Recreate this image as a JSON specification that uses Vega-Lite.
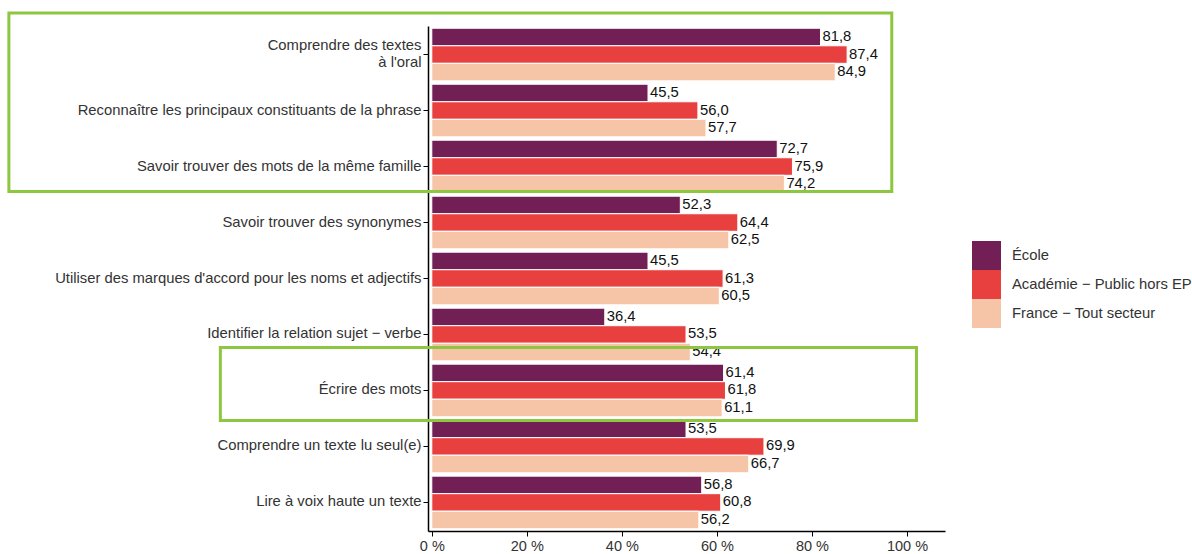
{
  "$schema": "https://vega.github.io/schema/vega-lite/v6.json",
  "autosize": {"type": "none"},
  "padding": {"left": 428, "top": 26, "right": 247, "bottom": 23},
  "width": 517,
  "height": 505,
  "background": "white",
  "config": {
    "view": {"stroke": null},
    "font": "Liberation Sans",
    "axis": {"domainColor": "#000000", "domainWidth": 1.5, "tickColor": "#000000", "tickSize": 5, "grid": false, "labelColor": "#333333"},
    "locale": {"number": {"decimal": ",", "thousands": " ", "grouping": [3], "currency": ["", " €"]}}
  },
  "layer": [
    {
      "data": {
        "values": [
          {"cat": "Comprendre des textes\nà l'oral", "serie": "École", "v": 81.8},
          {"cat": "Comprendre des textes\nà l'oral", "serie": "Académie − Public hors EP", "v": 87.4},
          {"cat": "Comprendre des textes\nà l'oral", "serie": "France − Tout secteur", "v": 84.9},
          {"cat": "Reconnaître les principaux constituants de la phrase", "serie": "École", "v": 45.5},
          {"cat": "Reconnaître les principaux constituants de la phrase", "serie": "Académie − Public hors EP", "v": 56.0},
          {"cat": "Reconnaître les principaux constituants de la phrase", "serie": "France − Tout secteur", "v": 57.7},
          {"cat": "Savoir trouver des mots de la même famille", "serie": "École", "v": 72.7},
          {"cat": "Savoir trouver des mots de la même famille", "serie": "Académie − Public hors EP", "v": 75.9},
          {"cat": "Savoir trouver des mots de la même famille", "serie": "France − Tout secteur", "v": 74.2},
          {"cat": "Savoir trouver des synonymes", "serie": "École", "v": 52.3},
          {"cat": "Savoir trouver des synonymes", "serie": "Académie − Public hors EP", "v": 64.4},
          {"cat": "Savoir trouver des synonymes", "serie": "France − Tout secteur", "v": 62.5},
          {"cat": "Utiliser des marques d'accord pour les noms et adjectifs", "serie": "École", "v": 45.5},
          {"cat": "Utiliser des marques d'accord pour les noms et adjectifs", "serie": "Académie − Public hors EP", "v": 61.3},
          {"cat": "Utiliser des marques d'accord pour les noms et adjectifs", "serie": "France − Tout secteur", "v": 60.5},
          {"cat": "Identifier la relation sujet − verbe", "serie": "École", "v": 36.4},
          {"cat": "Identifier la relation sujet − verbe", "serie": "Académie − Public hors EP", "v": 53.5},
          {"cat": "Identifier la relation sujet − verbe", "serie": "France − Tout secteur", "v": 54.4},
          {"cat": "Écrire des mots", "serie": "École", "v": 61.4},
          {"cat": "Écrire des mots", "serie": "Académie − Public hors EP", "v": 61.8},
          {"cat": "Écrire des mots", "serie": "France − Tout secteur", "v": 61.1},
          {"cat": "Comprendre un texte lu seul(e)", "serie": "École", "v": 53.5},
          {"cat": "Comprendre un texte lu seul(e)", "serie": "Académie − Public hors EP", "v": 69.9},
          {"cat": "Comprendre un texte lu seul(e)", "serie": "France − Tout secteur", "v": 66.7},
          {"cat": "Lire à voix haute un texte", "serie": "École", "v": 56.8},
          {"cat": "Lire à voix haute un texte", "serie": "Académie − Public hors EP", "v": 60.8},
          {"cat": "Lire à voix haute un texte", "serie": "France − Tout secteur", "v": 56.2}
        ]
      },
      "encoding": {
        "y": {
          "field": "cat", "type": "nominal", "title": null,
          "scale": {
            "domain": ["Comprendre des textes\nà l'oral", "Reconnaître les principaux constituants de la phrase", "Savoir trouver des mots de la même famille", "Savoir trouver des synonymes", "Utiliser des marques d'accord pour les noms et adjectifs", "Identifier la relation sujet − verbe", "Écrire des mots", "Comprendre un texte lu seul(e)", "Lire à voix haute un texte"],
            "paddingInner": 0.06, "paddingOuter": 0.04
          },
          "axis": {
            "labelPadding": 2, "labelFontSize": 14.8, "labelLimit": 0,
            "labelExpr": "split(datum.label, '\\n')", "labelLineHeight": 17,
            "labelOffset": {"condition": {"test": "indexof(datum.value, 'oral') >= 0", "value": -8.5}, "value": 0}
          }
        },
        "yOffset": {
          "field": "serie", "type": "nominal",
          "scale": {"domain": ["École", "Académie − Public hors EP", "France − Tout secteur"], "paddingInner": 0, "paddingOuter": 0}
        },
        "x": {
          "field": "v", "type": "quantitative", "title": null,
          "scale": {"domain": [-0.8, 108], "nice": false, "zero": false},
          "axis": {
            "values": [0, 20, 40, 60, 80, 100],
            "labelFontSize": 14.5, "labelPadding": 3,
            "labelExpr": "datum.value + ' %'"
          }
        }
      },
      "layer": [
        {
          "mark": {"type": "bar", "stroke": "white", "strokeWidth": 1},
          "encoding": {
            "color": {
              "field": "serie", "type": "nominal",
              "scale": {"domain": ["École", "Académie − Public hors EP", "France − Tout secteur"], "range": ["#721f56", "#e7403f", "#f6c4a6"]},
              "legend": {
                "title": null, "orient": "none", "legendX": 544, "legendY": 215,
                "symbolType": "square", "symbolSize": 841, "symbolStrokeWidth": 0,
                "rowPadding": 0, "padding": 0, "labelFontSize": 14.8, "labelColor": "#333333",
                "labelOffset": 11, "labelLimit": 0
              }
            }
          }
        },
        {
          "mark": {"type": "text", "align": "left", "baseline": "middle", "dx": 2, "fontSize": 14.8, "color": "#111111"},
          "encoding": {
            "text": {"field": "v", "type": "quantitative", "format": ".1f"}
          }
        }
      ]
    },
    {
      "data": {
        "values": [
          {"x1": -89.0, "x2": 96.8, "y1": -0.23, "y2": 2.95},
          {"x1": -44.5, "x2": 102.0, "y1": 5.73, "y2": 7.03}
        ]
      },
      "mark": {"type": "rect", "filled": false, "stroke": "#8dc63f", "strokeWidth": 3, "clip": false},
      "encoding": {
        "x": {"field": "x1", "type": "quantitative"},
        "x2": {"field": "x2"},
        "y": {"field": "y1", "type": "quantitative", "scale": {"domain": [0, 9], "reverse": true, "nice": false, "zero": false}, "axis": null},
        "y2": {"field": "y2"}
      }
    }
  ],
  "resolve": {"scale": {"y": "independent", "yOffset": "independent"}}
}
